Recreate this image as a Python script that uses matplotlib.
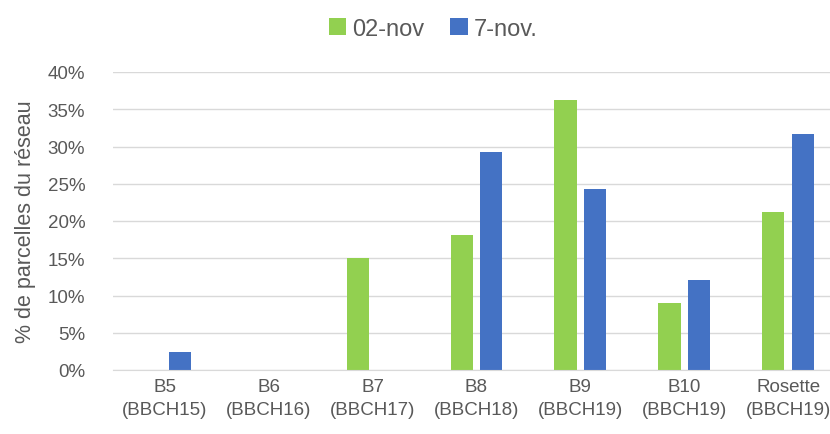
import matplotlib.pyplot as plt
import numpy as np

plt.rcParams['font.family'] = ['Liberation Sans Narrow', 'Liberation Sans', 'DejaVu Sans']

categories = ['B5\n(BBCH15)', 'B6\n(BBCH16)', 'B7\n(BBCH17)', 'B8\n(BBCH18)',
              'B9\n(BBCH19)', 'B10\n(BBCH19)', 'Rosette\n(BBCH19)']
nov02 = [0.0, 0.0, 15.1, 18.1, 36.3, 9.0, 21.2]
nov07 = [2.4, 0.0, 0.0, 29.2, 24.3, 12.1, 31.7]
series_names = ['02-nov', '7-nov.']
yticks = [0, 5, 10, 15, 20, 25, 30, 35, 40]

green = '#92D050'
blue = '#4472C4'
text_col = '#595959'
grid_col = '#D9D9D9'

fig = plt.figure(figsize=(8.3, 4.35), dpi=100)
ax = fig.add_axes([113 / 830, 64 / 435, 727 / 830, 298 / 435])

x = np.arange(len(categories))
w = 0.215
gap = 0.07
ax.bar(x - (w + gap) / 2, nov02, w, color=green, label=series_names[0], zorder=3)
ax.bar(x + (w + gap) / 2, nov07, w, color=blue, label=series_names[1], zorder=3)

ax.set_xlim(-0.5, len(categories) - 0.5)
ax.set_ylim(0, 40)
ax.set_yticks(yticks)
ax.set_yticklabels([f'{v}%' for v in yticks])
ax.set_xticks(x)
ax.set_xticklabels(categories, linespacing=1.45)

ax.yaxis.grid(True, color=grid_col, linewidth=1, zorder=0)
for s in ['top', 'right', 'left']:
    ax.spines[s].set_visible(False)
ax.spines['bottom'].set_color(grid_col)
ax.spines['bottom'].set_zorder(4)
ax.tick_params(axis='both', length=0, colors=text_col, labelsize=13.5)
ax.tick_params(axis='y', pad=20)
ax.tick_params(axis='x', pad=6)

ax.set_ylabel('% de parcelles du réseau', color=text_col, fontsize=15.5, labelpad=8)

fig.legend(loc='upper center', bbox_to_anchor=(0.522, 1.005), ncol=2, frameon=False,
           fontsize=17, handlelength=0.75, handleheight=0.75, handletextpad=0.25,
           columnspacing=1.1, labelcolor=text_col)

fig.savefig('out.png', dpi=100)
